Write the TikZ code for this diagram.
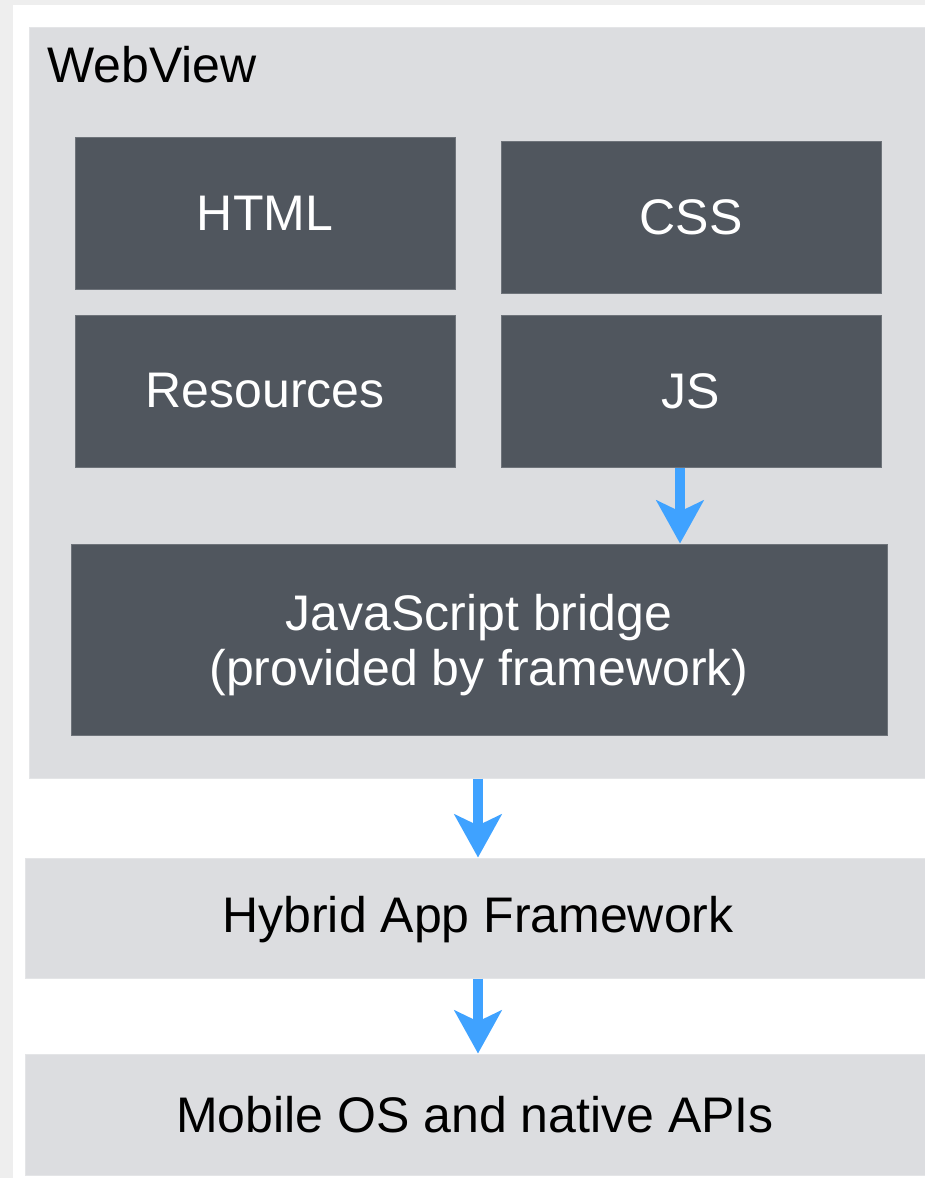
\documentclass[tikz,border=0pt]{standalone}
\usepackage{fontspec}
\setmainfont{Liberation Sans}
\usetikzlibrary{arrows.meta}
\definecolor{lightbox}{HTML}{DCDDE0}
\definecolor{lightedge}{HTML}{E4E5E7}
\definecolor{darkbox}{HTML}{50565E}
\definecolor{darkedge}{HTML}{6E737A}
\definecolor{arrowblue}{HTML}{3FA2FF}
\definecolor{margingray}{HTML}{EEEEEE}
\tikzset{
  lightnode/.style={rectangle, fill=lightbox, draw=lightedge, line width=1pt, inner sep=0pt,
    font=\fontsize{50}{55}\selectfont, text=black, align=center},
  darknode/.style={rectangle, fill=darkbox, draw=darkedge, line width=1pt, inner sep=0pt,
    font=\fontsize{50}{55}\selectfont, text=white, align=center},
  flowarrow/.style={draw=arrowblue, line width=10pt,
    -{Stealth[length=43pt, width=47pt, inset=11pt, fill=arrowblue]}},
}
\begin{document}
\begin{tikzpicture}[x=1pt,y=-1pt]
\useasboundingbox (0,0) rectangle (925,1178);
\fill[margingray] (0,0) rectangle (925,1178);
\fill[white] (13,5) rectangle (925,1178);

\node[lightnode, minimum width=896pt, minimum height=751pt] (webview) at (477,402.5) {};
\node[anchor=base west, font=\fontsize{50}{55}\selectfont, inner sep=0pt] (wvlabel) at (47,82) {WebView};

\node[darknode, minimum width=380pt, minimum height=152pt] (html) at (265,213) {HTML};
\node[darknode, minimum width=380pt, minimum height=152pt] (css) at (691,217) {CSS};
\node[darknode, minimum width=380pt, minimum height=152pt] (res) at (265,391) {Resources};
\node[darknode, minimum width=380pt, minimum height=152pt] (js) at (691,391) {JS};
\node[darknode, minimum width=816pt, minimum height=191pt] (bridge) at (479,639.5) {};
\node[font=\fontsize{50}{55}\selectfont, text=white, align=center, inner sep=0pt] (bridgetext) at (479,645)
  {JavaScript bridge\\(provided by framework)};

\node[lightnode, minimum width=900pt, minimum height=120pt] (hybrid) at (475,918) {};
\node[font=\fontsize{50}{55}\selectfont, inner sep=0pt] (hybridtext) at (478,920) {Hybrid App Framework};
\node[lightnode, minimum width=900pt, minimum height=121pt] (mobile) at (475,1114.5) {Mobile OS and native APIs};

\draw[flowarrow] ([xshift=-11pt]js.south) -- ([xshift=-11pt]js.south |- bridge.north);
\draw[flowarrow] ([xshift=1pt]webview.south) -- ([xshift=1pt]webview.south |- hybrid.north);
\draw[flowarrow] ([xshift=3pt]hybrid.south) -- ([xshift=3pt]hybrid.south |- mobile.north);
\end{tikzpicture}
\end{document}
